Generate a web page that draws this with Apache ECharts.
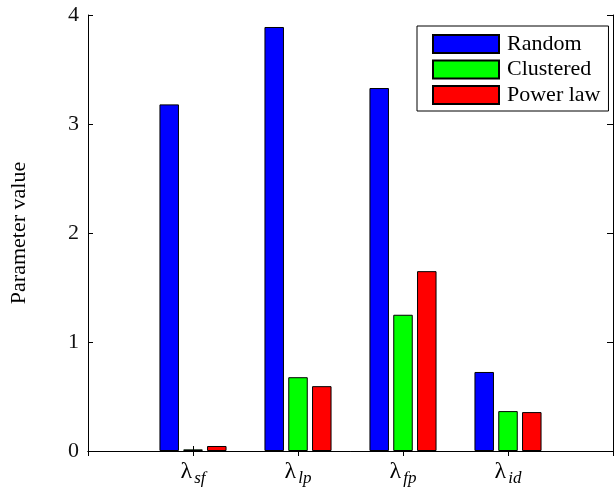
<!DOCTYPE html>
<html>
<head>
<meta charset="utf-8">
<script src="https://cdn.jsdelivr.net/npm/echarts@6/dist/echarts.min.js"></script>
<style>html,body{margin:0;padding:0;background:#fff}#c{width:616px;height:487px}</style>
</head>
<body>
<div id="c"></div>
<script>
const categorySubscripts = ['sf', 'lp', 'fp', 'id'];
const seriesNames = ['Random', 'Clustered', 'Power law'];
const randomValues = [3.18, 3.89, 3.33, 0.725];
const clusteredValues = [0.015, 0.677, 1.25, 0.366];
const powerLawValues = [0.046, 0.595, 1.65, 0.357];
const yTicks = [0, 1, 2, 3, 4];

const FONT = '"Liberation Serif", "DejaVu Serif", serif';
// pad with empty slots at both ends so categories sit at 1..4 of a 0..5 range
const cats = [''].concat(categorySubscripts).concat(['']);
const pad = arr => [null].concat(arr).concat([null]);

const chart = echarts.init(document.getElementById('c'), null, {renderer: 'canvas'});
const barCommon = {
  type: 'bar',
  barWidth: 19.5,
  barGap: '22%',
  emphasis: {disabled: true}
};
chart.setOption({
  animation: false,
  backgroundColor: '#fff',
  grid: {left: 86, top: 15, right: -4, bottom: 35, containLabel: false},
  legend: {
    orient: 'vertical',
    left: 417, top: 26,
    padding: [7, 8, 5, 15],
    icon: 'rect',
    itemWidth: 66, itemHeight: 18, itemGap: 3.5,
    borderColor: '#000', borderWidth: 1, backgroundColor: '#fff',
    selectedMode: false,
    textStyle: {fontFamily: FONT, fontSize: 22, color: '#000', lineHeight: 18, padding: [0, 0, 0, 3]},
    data: seriesNames
  },
  xAxis: [{
    type: 'category', data: cats, boundaryGap: false, position: 'bottom',
    axisLine: {lineStyle: {color: '#000', width: 1}},
    axisTick: {inside: true, length: 5, lineStyle: {color: '#000'}},
    axisLabel: {
      margin: 9, interval: 0,
      formatter: v => v ? '{l|λ}{s|' + v + '}' : '',
      rich: {
        l: {fontFamily: FONT, fontSize: 24, color: '#000', lineHeight: 22, verticalAlign: 'top'},
        s: {fontFamily: FONT, fontStyle: 'italic', fontSize: 17, color: '#000', lineHeight: 16, padding: [10, 0, 0, 2], verticalAlign: 'top'}
      }
    },
    splitLine: {show: false}
  }, {
    type: 'category', data: cats, boundaryGap: false, position: 'top',
    axisLine: {lineStyle: {color: '#000', width: 1}},
    axisTick: {inside: true, length: 5, lineStyle: {color: '#000'}},
    axisLabel: {show: false},
    splitLine: {show: false}
  }],
  yAxis: [{
    type: 'value', min: yTicks[0], max: yTicks[yTicks.length - 1], interval: 1, position: 'left',
    name: 'Parameter value', nameLocation: 'middle', nameGap: 58, nameRotate: 90,
    nameTextStyle: {fontFamily: FONT, fontSize: 22, color: '#000'},
    axisLine: {show: true, lineStyle: {color: '#000', width: 1}},
    axisTick: {show: true, inside: true, length: 5, lineStyle: {color: '#000'}},
    axisLabel: {fontFamily: FONT, fontSize: 22, color: '#111', margin: 9},
    splitLine: {show: false}
  }, {
    type: 'value', min: yTicks[0], max: yTicks[yTicks.length - 1], interval: 1, position: 'right',
    axisLine: {show: true, lineStyle: {color: '#000', width: 1}},
    axisTick: {show: true, inside: true, length: 6, lineStyle: {color: '#000'}},
    axisLabel: {show: false},
    splitLine: {show: false}
  }],
  series: [
    Object.assign({}, barCommon, {name: seriesNames[0], data: pad(randomValues), itemStyle: {color: '#0000ff', borderColor: '#000', borderWidth: 1}}),
    Object.assign({}, barCommon, {name: seriesNames[1], data: pad(clusteredValues), itemStyle: {color: '#00ff00', borderColor: '#000', borderWidth: 1}}),
    Object.assign({}, barCommon, {name: seriesNames[2], data: pad(powerLawValues), itemStyle: {color: '#ff0000', borderColor: '#000', borderWidth: 1}})
  ]
});
</script>
</body>
</html>
